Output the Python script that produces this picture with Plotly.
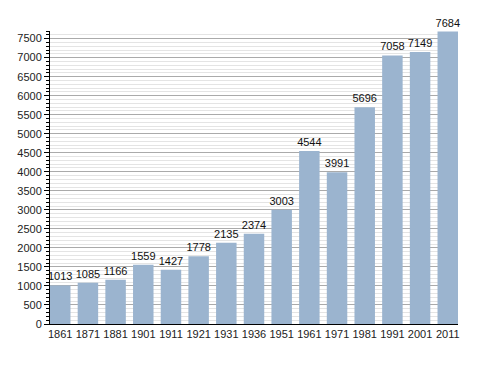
import plotly.graph_objects as go

years = ["1861", "1871", "1881", "1901", "1911", "1921", "1931", "1936",
         "1951", "1961", "1971", "1981", "1991", "2001", "2011"]
population = [1013, 1085, 1166, 1559, 1427, 1778, 2135, 2374,
              3003, 4544, 3991, 5696, 7058, 7149, 7684]
y_ticks = list(range(0, 7501, 500))

font = "Liberation Sans, Arial, sans-serif"

fig = go.Figure(go.Bar(
    x=list(range(len(years))),
    y=population,
    width=0.74,
    marker=dict(color="#9bb4cf", line=dict(width=0)),
    text=[str(v) for v in population],
    textposition="outside",
    constraintext="none",
    textfont=dict(family=font, size=11, color="#111"),
    cliponaxis=False,
))

# page body has an 8px default margin, so the figure is shifted by 8px
fig.update_layout(
    width=480, height=365,
    margin=dict(l=42, r=30, t=23, b=49, autoexpand=False),
    plot_bgcolor="white", paper_bgcolor="white",
    showlegend=False,
    bargap=0.26,
    xaxis=dict(
        range=[-0.37, len(years) - 1 + 0.37],
        tickmode="array",
        tickvals=list(range(len(years))),
        ticktext=years,
        showgrid=False, zeroline=False,
        showline=True, linecolor="black", linewidth=1,
        ticks="", ticklen=0,
        tickfont=dict(family=font, size=11, color="#222"),
        automargin=False,
        fixedrange=True,
    ),
    yaxis=dict(
        range=[0, 7700],
        tickmode="array",
        tickvals=y_ticks,
        showline=True, linecolor="black", linewidth=1,
        ticks="outside", ticklen=5, tickcolor="black", tickwidth=1,
        showgrid=True, gridcolor="#aaaaaa", gridwidth=1,
        zeroline=False,
        tickfont=dict(family=font, size=11, color="#222"),
        minor=dict(dtick=100, tick0=0, ticks="outside", ticklen=3,
                   tickcolor="black", showgrid=True, gridcolor="#e4e4e4",
                   gridwidth=1),
        automargin=False,
        fixedrange=True,
    ),
)

fig.write_html("out.html")
